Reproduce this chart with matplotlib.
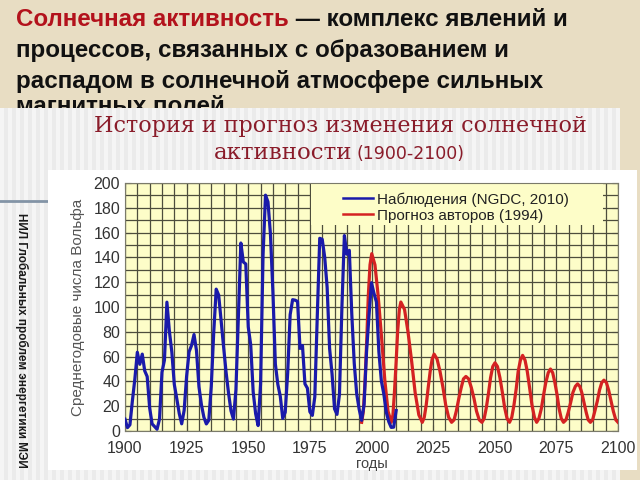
import matplotlib
matplotlib.use("Agg")
import matplotlib.pyplot as plt
from matplotlib.patches import Rectangle
from matplotlib.lines import Line2D
from matplotlib.transforms import Bbox
import numpy as np

# ---------------- data ----------------
blue_years = list(range(1900, 2011))
blue_vals = [9.5, 2.7, 5.0, 24.4, 42.0, 63.5, 53.8, 62.0, 48.5, 43.9,
             18.6, 5.7, 3.6, 1.4, 9.6, 47.4, 57.1, 103.9, 80.6, 63.6,
             37.6, 26.1, 14.2, 5.8, 16.7, 44.3, 63.9, 69.0, 77.8, 64.9,
             35.7, 21.2, 11.1, 5.7, 8.7, 36.1, 79.7, 114.4, 109.6, 88.8,
             67.8, 47.5, 30.6, 16.3, 9.6, 33.2, 92.6, 151.6, 136.3, 134.7,
             83.9, 69.4, 31.5, 13.9, 4.4, 38.0, 141.7, 190.2, 184.8, 159.0,
             112.3, 53.9, 37.6, 27.9, 10.2, 15.1, 47.0, 93.8, 105.9, 105.5,
             104.5, 66.6, 68.9, 38.0, 34.5, 15.5, 12.6, 27.5, 92.5, 155.4,
             154.6, 140.4, 115.9, 66.6, 45.9, 17.9, 13.4, 29.4, 100.2, 157.6,
             142.6, 145.7, 94.3, 54.6, 29.9, 17.5, 8.6, 21.5, 64.3, 93.3,
             119.6, 111.0, 104.0, 63.7, 40.4, 29.8, 15.2, 7.5, 2.9, 3.1,
             16.5]

red_years = [
    1996.0, 1996.7, 1997.4, 1998.1, 1998.7, 1999.4, 2000.1,
    2001.4, 2002.7, 2004.1, 2005.4, 2006.7, 2008.0,
    2008.7, 2009.3, 2010.0, 2010.6, 2011.3, 2011.9,
    2013.4, 2014.8, 2016.3, 2017.7, 2019.2, 2020.6,
    2021.4, 2022.2, 2023.0, 2023.8, 2024.6, 2025.4,
    2026.6, 2027.8, 2029.0, 2030.1, 2031.3, 2032.5,
    2033.5, 2034.4, 2035.4, 2036.4, 2037.3, 2038.3,
    2039.4, 2040.5, 2041.6, 2042.6, 2043.7, 2044.8,
    2045.7, 2046.6, 2047.5, 2048.3, 2049.2, 2050.1,
    2051.1, 2052.1, 2053.1, 2054.0, 2055.0, 2056.0,
    2056.9, 2057.8, 2058.7, 2059.5, 2060.4, 2061.3,
    2062.3, 2063.2, 2064.2, 2065.1, 2066.1, 2067.0,
    2067.9, 2068.9, 2069.8, 2070.7, 2071.7, 2072.6,
    2073.5, 2074.4, 2075.3, 2076.1, 2077.0, 2077.9,
    2078.9, 2079.8, 2080.8, 2081.7, 2082.7, 2083.6,
    2084.5, 2085.3, 2086.2, 2087.1, 2087.9, 2088.8,
    2089.7, 2090.6, 2091.6, 2092.5, 2093.4, 2094.3,
    2095.3, 2096.2, 2097.2, 2098.1, 2099.1, 2100.0]
red_vals = [
    7, 16, 41, 75, 109, 134, 143,
    134, 109, 75, 41, 16, 7,
    13, 31, 56, 80, 98, 104,
    98, 80, 56, 31, 13, 7,
    11, 21, 35, 48, 58, 62,
    58, 48, 35, 21, 11, 7,
    9, 16, 26, 35, 42, 44,
    42, 35, 26, 16, 9, 7,
    10, 19, 31, 43, 52, 55,
    52, 43, 31, 19, 10, 7,
    11, 21, 34, 48, 57, 61,
    57, 48, 34, 21, 11, 7,
    10, 18, 29, 39, 47, 50,
    47, 39, 29, 18, 10, 7,
    9, 15, 23, 31, 36, 38,
    36, 31, 23, 15, 9, 7,
    9, 16, 24, 33, 39, 41,
    39, 33, 24, 16, 9, 7]

x_major = list(range(1900, 2101, 25))
y_major = list(range(0, 201, 20))
legend_labels = ["Наблюдения (NGDC, 2010)", "Прогноз авторов (1994)"]
heading_red = "Солнечная активность"
heading_lines = [" — комплекс явлений и",
                 "процессов, связанных с образованием и",
                 "распадом в солнечной атмосфере сильных",
                 "магнитных полей"]
title1 = "История и прогноз изменения солнечной"
title2a = "активности"
title2b = "(1900-2100)"
ylabel = "Среднегодовые числа Вольфа"
xlabel = "годы"
side_text = "НИЛ Глобальных проблем энергетики МЭИ"

# ---------------- figure ----------------
W, H = 640, 480
fig = plt.figure(figsize=(6.4, 4.8), dpi=100)
fig.patch.set_facecolor("#e8ddc3")

def fx(x):
    return x / W

def fy(y):
    return 1 - y / H

def frect(x0, y0, x1, y1, color, z):
    fig.patches.append(Rectangle((fx(x0), fy(y1)), fx(x1) - fx(x0), fy(y0) - fy(y1),
                                 transform=fig.transFigure, facecolor=color,
                                 edgecolor="none", zorder=z))

sans_b = ["Liberation Sans", "DejaVu Sans"]
HS = 17.4

# heading text (partly hidden under the panel)
t1 = fig.text(fx(16), fy(26), heading_red, color="#b3121c", fontsize=HS,
              fontweight="bold", family=sans_b, va="baseline", ha="left", zorder=1)
fig.canvas.draw()
r = fig.canvas.get_renderer()
bb = t1.get_window_extent(r)
fig.text(bb.x1 / W, fy(26), heading_lines[0], color="#111111", fontsize=HS,
         fontweight="bold", family=sans_b, va="baseline", ha="left", zorder=1)
for i, line in enumerate(heading_lines[1:3]):
    fig.text(fx(16), fy(57 + 31 * i), line, color="#111111", fontsize=HS,
             fontweight="bold", family=sans_b, va="baseline", ha="left", zorder=1)
t4 = fig.text(fx(16), fy(113), heading_lines[3], color="#111111", fontsize=HS,
              fontweight="bold", family=sans_b, va="baseline", ha="left", zorder=1)
t4.set_clip_box(Bbox.from_extents(0, H - 108, W, H))
t4.set_clip_on(True)

# striped gray panel
frect(0, 108, 620, 480, "#ebebeb", 2)
for xs in np.arange(0, 620, 8):
    frect(xs, 108, xs + 4, 480, "#f5f5f5", 2.1)
# white chart area
frect(48, 170, 637, 470, "#ffffff", 3)
# small blue-gray line on left
fig.lines.append(Line2D([fx(0), fx(48)], [fy(201), fy(201)], transform=fig.transFigure,
                        color="#8394a6", lw=2, zorder=3))

# titles
fig.text(fx(340), fy(132), title1, color="#8a1c2a", fontsize=16, family=["DejaVu Serif"],
         va="baseline", ha="center", zorder=4)
fig.text(fx(352), fy(159), title2a, color="#8a1c2a", fontsize=16.5, family=["DejaVu Serif"],
         va="baseline", ha="right", zorder=4)
fig.text(fx(356), fy(159), title2b, color="#8a1c2a", fontsize=12.5, family=["DejaVu Sans"],
         va="baseline", ha="left", zorder=4)

# side text
fig.text(fx(22), fy(340), side_text, rotation=270, color="#1a1a1a", fontsize=8.5,
         fontweight="bold", family=["Liberation Sans Narrow", "Liberation Sans"],
         va="center", ha="center", zorder=4)

# ---------------- axes ----------------
ax = fig.add_axes([fx(125), fy(431), (618 - 125) / W, (431 - 183) / H], zorder=5)
ax.set_facecolor("#fdfdc8")
ax.set_axisbelow(True)
ax.set_xlim(1900, 2100)
ax.set_ylim(0, 200)
ax.set_xticks(x_major)
ax.set_xticks(range(1900, 2101, 5), minor=True)
ax.set_yticks(y_major)
ax.set_yticks(range(0, 201, 10), minor=True)
ax.grid(True, which="both", color="#4d4d3c", lw=0.9)
ax.tick_params(which="both", direction="in", top=True, right=True, length=4,
               color="#4d4d3c", labelsize=11.5, labelcolor="#333333")
ax.tick_params(axis="x", pad=7.5)
for s in ax.spines.values():
    s.set_color("#7a7a6a")
for lab in ax.get_xticklabels() + ax.get_yticklabels():
    lab.set_family(["Liberation Sans", "DejaVu Sans"])

# legend backdrop (no grid behind legend)
ax.add_patch(Rectangle((0.377, 0.83), 0.593, 0.17, transform=ax.transAxes,
                       facecolor="#fdfdc8", edgecolor="none", zorder=1))

ax.plot(red_years, red_vals, color="#d42222", lw=2.3, zorder=3,
        solid_joinstyle="round", label=legend_labels[1])
ax.plot(blue_years, blue_vals, color="#1a1aaa", lw=2.3, zorder=4,
        solid_joinstyle="round", label=legend_labels[0])

handles = [Line2D([], [], color="#1a1aaa", lw=1.8), Line2D([], [], color="#d42222", lw=1.8)]
leg = ax.legend(handles, legend_labels, loc="upper left", bbox_to_anchor=(0.442, 0.962),
                frameon=False, borderpad=0, borderaxespad=0, handlelength=2.0,
                handletextpad=0.2, labelspacing=0.12,
                prop={"family": ["Liberation Sans", "DejaVu Sans"], "size": 11})
for t in leg.get_texts():
    t.set_color("#222222")

ax.set_ylabel(ylabel, fontsize=11, color="#555555", family=["Liberation Sans", "DejaVu Sans"],
              labelpad=6)
ax.set_xlabel(xlabel, fontsize=10.5, color="#444444", family=["Liberation Sans", "DejaVu Sans"],
              labelpad=0.5)

fig.savefig("out.png", dpi=100)
